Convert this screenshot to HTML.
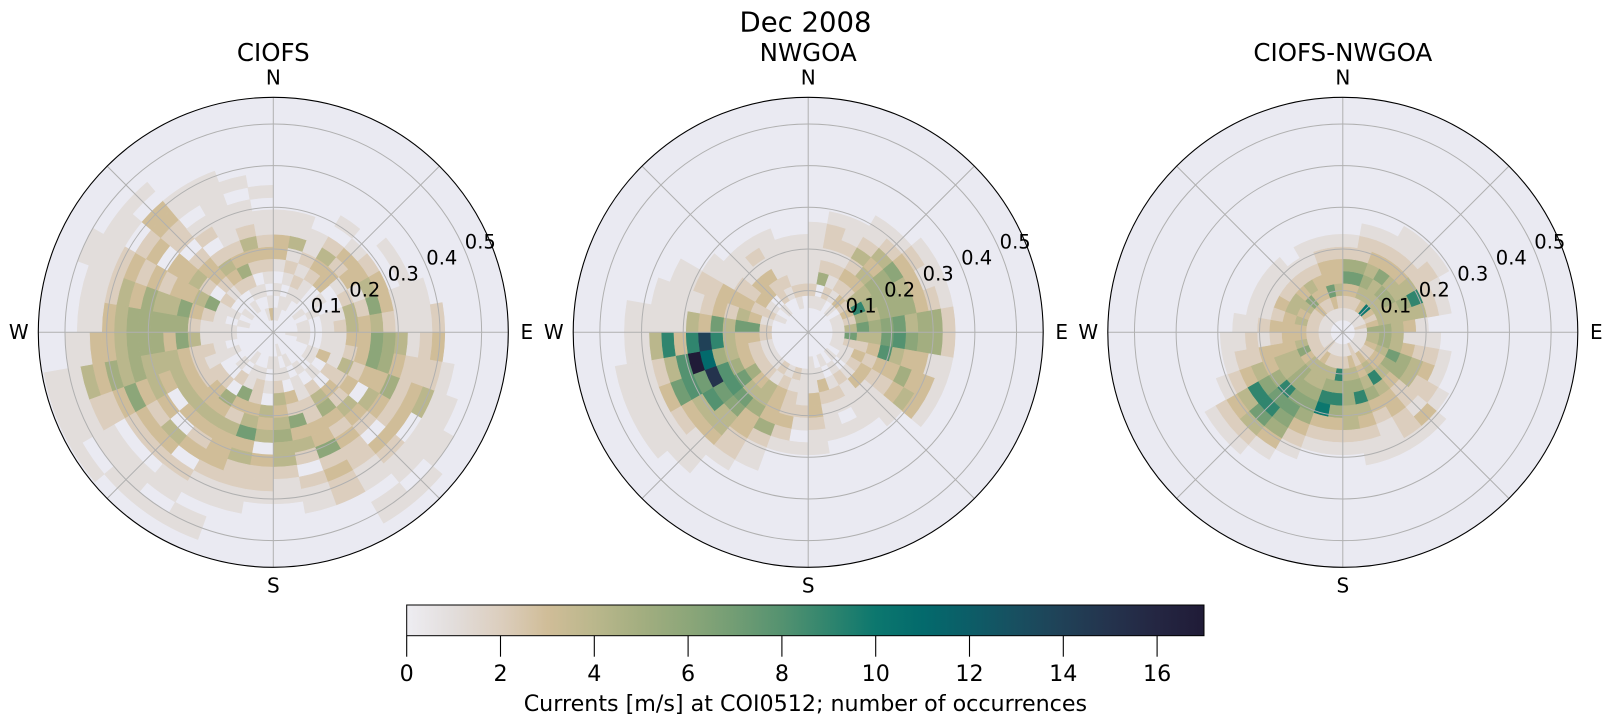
<!DOCTYPE html>
<html><head><meta charset="utf-8">
<style>
html,body{margin:0;padding:0;background:#fff;}
svg{display:block;}
text{font-family:"DejaVu Sans","Liberation Sans",sans-serif;fill:#000;}
</style></head><body>
<svg id="fig" width="1611" height="724" viewBox="0 0 1611 724" xmlns="http://www.w3.org/2000/svg">
<defs>
<linearGradient id="cb" x1="0" x2="1" y1="0" y2="0">
<stop offset="0" stop-color="rgb(238,237,242)"/>
<stop offset="0.0588" stop-color="rgb(226,221,219)"/>
<stop offset="0.1176" stop-color="rgb(220,206,190)"/>
<stop offset="0.1765" stop-color="rgb(208,189,152)"/>
<stop offset="0.2353" stop-color="rgb(186,183,140)"/>
<stop offset="0.2941" stop-color="rgb(163,174,128)"/>
<stop offset="0.3529" stop-color="rgb(140,166,121)"/>
<stop offset="0.4118" stop-color="rgb(114,157,116)"/>
<stop offset="0.4706" stop-color="rgb(84,146,112)"/>
<stop offset="0.5294" stop-color="rgb(48,133,110)"/>
<stop offset="0.5882" stop-color="rgb(12,119,110)"/>
<stop offset="0.6471" stop-color="rgb(3,106,108)"/>
<stop offset="0.7059" stop-color="rgb(12,93,103)"/>
<stop offset="0.7647" stop-color="rgb(24,79,96)"/>
<stop offset="0.8235" stop-color="rgb(32,65,87)"/>
<stop offset="0.8824" stop-color="rgb(36,51,77)"/>
<stop offset="0.9412" stop-color="rgb(36,38,66)"/>
<stop offset="1" stop-color="rgb(32,27,55)"/>
</linearGradient>
</defs>
<rect width="1611" height="724" fill="#fff"/>
<text x="805.5" y="31.5" font-size="27.5" text-anchor="middle">Dec 2008</text>

<!-- Plot 1 -->
<g transform="translate(273.3,332.3)">
 <circle r="235" fill="#EAEAF2"/>
 <g id="cells0"></g>
 <g stroke="#b0b0b0" stroke-width="1" fill="none">
  <circle r="41.67"/><circle r="83.33"/><circle r="125"/><circle r="166.67"/><circle r="208.33"/>
  <line x1="0" y1="0" x2="0" y2="-235"/><line x1="0" y1="0" x2="0" y2="235"/>
  <line x1="0" y1="0" x2="235" y2="0"/><line x1="0" y1="0" x2="-235" y2="0"/>
  <line x1="0" y1="0" x2="166.17" y2="-166.17"/><line x1="0" y1="0" x2="166.17" y2="166.17"/>
  <line x1="0" y1="0" x2="-166.17" y2="166.17"/><line x1="0" y1="0" x2="-166.17" y2="-166.17"/>
 </g>
 <circle r="235" fill="none" stroke="#000" stroke-width="1.1"/>
 <g font-size="19.5" text-anchor="middle">
  <text x="53" y="-19.8">0.1</text><text x="91.5" y="-35.8">0.2</text><text x="130" y="-51.7">0.3</text><text x="168.5" y="-67.7">0.4</text><text x="207" y="-83.6">0.5</text>
 </g>
 <g font-size="20" text-anchor="middle">
  <text x="0" y="-248">N</text><text x="0" y="260.3">S</text>
 </g>
 <text x="247.2" y="6.5" font-size="20">E</text>
 <text x="-244.6" y="6.5" font-size="20" text-anchor="end">W</text>
 <text x="0" y="-271.3" font-size="24.5" text-anchor="middle">CIOFS</text>
</g>

<!-- Plot 2 -->
<g transform="translate(808.2,332.3)">
 <circle r="235" fill="#EAEAF2"/>
 <g id="cells1"></g>
 <g stroke="#b0b0b0" stroke-width="1" fill="none">
  <circle r="41.67"/><circle r="83.33"/><circle r="125"/><circle r="166.67"/><circle r="208.33"/>
  <line x1="0" y1="0" x2="0" y2="-235"/><line x1="0" y1="0" x2="0" y2="235"/>
  <line x1="0" y1="0" x2="235" y2="0"/><line x1="0" y1="0" x2="-235" y2="0"/>
  <line x1="0" y1="0" x2="166.17" y2="-166.17"/><line x1="0" y1="0" x2="166.17" y2="166.17"/>
  <line x1="0" y1="0" x2="-166.17" y2="166.17"/><line x1="0" y1="0" x2="-166.17" y2="-166.17"/>
 </g>
 <circle r="235" fill="none" stroke="#000" stroke-width="1.1"/>
 <g font-size="19.5" text-anchor="middle">
  <text x="53" y="-19.8">0.1</text><text x="91.5" y="-35.8">0.2</text><text x="130" y="-51.7">0.3</text><text x="168.5" y="-67.7">0.4</text><text x="207" y="-83.6">0.5</text>
 </g>
 <g font-size="20" text-anchor="middle">
  <text x="0" y="-248">N</text><text x="0" y="260.3">S</text>
 </g>
 <text x="247.2" y="6.5" font-size="20">E</text>
 <text x="-244.6" y="6.5" font-size="20" text-anchor="end">W</text>
 <text x="0" y="-271.3" font-size="24.5" text-anchor="middle">NWGOA</text>
</g>

<!-- Plot 3 -->
<g transform="translate(1342.8,332.3)">
 <circle r="235" fill="#EAEAF2"/>
 <g id="cells2"></g>
 <g stroke="#b0b0b0" stroke-width="1" fill="none">
  <circle r="41.67"/><circle r="83.33"/><circle r="125"/><circle r="166.67"/><circle r="208.33"/>
  <line x1="0" y1="0" x2="0" y2="-235"/><line x1="0" y1="0" x2="0" y2="235"/>
  <line x1="0" y1="0" x2="235" y2="0"/><line x1="0" y1="0" x2="-235" y2="0"/>
  <line x1="0" y1="0" x2="166.17" y2="-166.17"/><line x1="0" y1="0" x2="166.17" y2="166.17"/>
  <line x1="0" y1="0" x2="-166.17" y2="166.17"/><line x1="0" y1="0" x2="-166.17" y2="-166.17"/>
 </g>
 <circle r="235" fill="none" stroke="#000" stroke-width="1.1"/>
 <g font-size="19.5" text-anchor="middle">
  <text x="53" y="-19.8">0.1</text><text x="91.5" y="-35.8">0.2</text><text x="130" y="-51.7">0.3</text><text x="168.5" y="-67.7">0.4</text><text x="207" y="-83.6">0.5</text>
 </g>
 <g font-size="20" text-anchor="middle">
  <text x="0" y="-248">N</text><text x="0" y="260.3">S</text>
 </g>
 <text x="247.2" y="6.5" font-size="20">E</text>
 <text x="-244.6" y="6.5" font-size="20" text-anchor="end">W</text>
 <text x="0" y="-271.3" font-size="24.5" text-anchor="middle">CIOFS-NWGOA</text>
</g>

<!-- Colorbar -->
<rect x="406.7" y="605" width="797.3" height="30.7" fill="url(#cb)" stroke="#000" stroke-width="1"/>
<g stroke="#000" stroke-width="1.1">
 <line x1="406.7" y1="635.7" x2="406.7" y2="656.7"/>
 <line x1="500.5" y1="635.7" x2="500.5" y2="656.7"/>
 <line x1="594.3" y1="635.7" x2="594.3" y2="656.7"/>
 <line x1="688.1" y1="635.7" x2="688.1" y2="656.7"/>
 <line x1="781.9" y1="635.7" x2="781.9" y2="656.7"/>
 <line x1="875.7" y1="635.7" x2="875.7" y2="656.7"/>
 <line x1="969.5" y1="635.7" x2="969.5" y2="656.7"/>
 <line x1="1063.3" y1="635.7" x2="1063.3" y2="656.7"/>
 <line x1="1157.1" y1="635.7" x2="1157.1" y2="656.7"/>
</g>
<g font-size="22.2" text-anchor="middle">
 <text x="406.7" y="681">0</text>
 <text x="500.5" y="681">2</text>
 <text x="594.3" y="681">4</text>
 <text x="688.1" y="681">6</text>
 <text x="781.9" y="681">8</text>
 <text x="875.7" y="681">10</text>
 <text x="969.5" y="681">12</text>
 <text x="1063.3" y="681">14</text>
 <text x="1157.1" y="681">16</text>
 <text x="805.4" y="711">Currents [m/s] at COI0512; number of occurrences</text>
</g>
</svg>
<script>
(function(){
var C=[[238,237,242],[226,221,219],[220,206,190],[208,189,152],[186,183,140],[163,174,128],[140,166,121],[114,157,116],[84,146,112],[48,133,110],[12,119,110],[3,106,108],[12,93,103],[24,79,96],[32,65,87],[36,51,77],[36,38,66],[32,27,55]];
var D=[
["0101013311000000000","0110121411000000000","0011212110000000000","0001123420100000000","0000033231000000000","0010101332010000000","0001002143010000000","0010114263111000000","0010124342111200000","0110113365412300000","0010112365322210000","0001314233523411000","0001022304323011100","0000103243203211010","0001024532322110110","0010112233623220000","0101032634202110000","0011243454421100000","0010104340322100000","0001223473422110000","0001163243332110110","0010205343230211010","0001023343043201110","0000022340323201101","0001112343436322111","0000122344454534111","0001114635554331100","0001112555554311000","0010123644534211000","0001164332323211100","0010202433032011000","0000123320223301000","0010234202101100000","0001253211111100000","0101023421101000000","0310123211010000000"],
["0012111110000000000","0010521221000000000","0012121211000000000","0001232421100000000","0013234342100000000","0002445563210000000","0013955543110000000","0012545553210000000","0014756745520000000","0017447865520000000","0012238433110000000","0011323353310000000","0001232234310000000","0010131111000000000","0001211110000000000","0010121010000000000","0001321110000000000","0011133211000000000","0001112101000000000","0002122321000000000","0001233352110000000","0002144533221000000","0001234764431110000","0001257878432111000","00012358f7873111000","00012345bh842111000","00023349e9394110000","0002774734111110000","0001342321111000000","0012233322110000000","0001322111000000000","0010331110000000000","0002231210000000000","0001211110000000000","0012111100000000000","0002111100000000000"],
["0123752100000000000","0123752210000000000","0124543210000000000","0134463211000000000","01a4543211000000000","0134544221000000000","0124459210000000000","0234444210000000000","0155431000000000000","0145411100000000000","0145432210000000000","0134754310000000000","0123554221000000000","0123432213100000000","0134943322100000000","0223453211100000000","0134594321100000000","0124554421000000000","0129595321000000000","012459a321000000000","0124456532100000000","0134456765310000000","0224559797421000000","0123445694321000000","0126443432100000000","0124333221000000000","0123321211000000000","0123332110000000000","0124321100000000000","0123431100000000000","0124421100000000000","0136321100000000000","0123421000000000000","0123321100000000000","0137332100000000000","0124332100000000000"]
];
var RW=12.255, NS="http://www.w3.org/2000/svg";
function pt(r,a){a=a*Math.PI/180;return (r*Math.sin(a)).toFixed(2)+","+(-r*Math.cos(a)).toFixed(2);}
for(var p=0;p<3;p++){
 var g=document.getElementById("cells"+p);
 for(var s=0;s<36;s++){
  var str=D[p][s];
  for(var k=0;k<str.length;k++){
   var v=parseInt(str.charAt(k),36); if(!v)continue; if(v>17)v=17;
   var r0=k*RW, r1=Math.min((k+1)*RW,234.5), a0=s*10, a1=s*10+10;
   var c=C[v], col="rgb("+c[0]+","+c[1]+","+c[2]+")";
   var d="M"+pt(r1,a0)+"A"+r1.toFixed(2)+","+r1.toFixed(2)+" 0 0 1 "+pt(r1,a1)+"L"+pt(r0,a1);
   if(r0>0) d+="A"+r0.toFixed(2)+","+r0.toFixed(2)+" 0 0 0 "+pt(r0,a0);
   d+="Z";
   var e=document.createElementNS(NS,"path");
   e.setAttribute("d",d);e.setAttribute("fill",col);e.setAttribute("stroke",col);e.setAttribute("stroke-width","0.5");
   g.appendChild(e);
  }
 }
}
})();
</script>
</body></html>
